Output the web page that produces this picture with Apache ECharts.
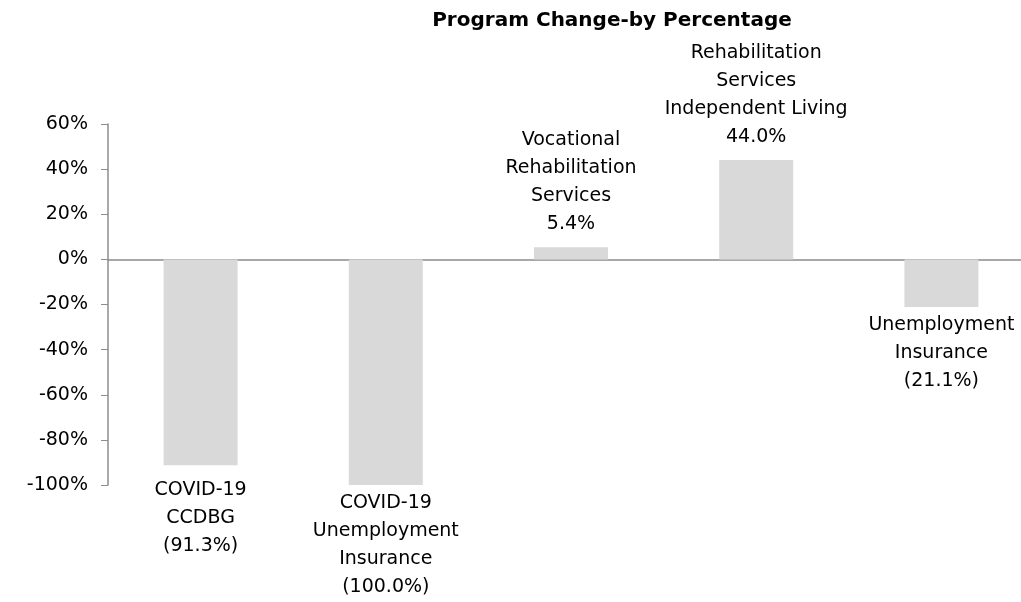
<!DOCTYPE html>
<html>
<head>
<meta charset="utf-8">
<script src="https://cdn.jsdelivr.net/npm/echarts@6/dist/echarts.min.js"></script>
<style>
  html, body { margin: 0; padding: 0; background: #fff; }
  #main { width: 1021px; height: 602px; }
</style>
</head>
<body>
<div id="main"></div>
<script>
// program names and percent change
const programs = [
  'COVID-19\nCCDBG',
  'COVID-19\nUnemployment\nInsurance',
  'Vocational\nRehabilitation\nServices',
  'Rehabilitation\nServices\nIndependent Living',
  'Unemployment\nInsurance'
];
const changes = [-91.3, -100.0, 5.4, 44.0, -21.1];

const font = '"DejaVu Sans", sans-serif';

const myChart = echarts.init(document.getElementById('main'));

myChart.setOption({
  animation: false,
  title: {
    text: 'Program Change-by Percentage',
    left: 607,
    textAlign: 'center',
    top: 6,
    textStyle: { fontFamily: font, fontSize: 20, fontWeight: 'bold', color: '#000' }
  },
  grid: { left: 108, top: 124, width: 926, height: 361, outerBoundsMode: 'none' },
  xAxis: {
    type: 'category',
    data: programs,
    axisLine: { lineStyle: { color: '#8c8c8c', width: 1.5 } },
    axisTick: { show: false },
    axisLabel: { show: false }
  },
  yAxis: {
    type: 'value',
    min: -100,
    max: 60,
    interval: 20,
    splitLine: { show: false },
    axisLine: { show: true, lineStyle: { color: '#8c8c8c', width: 1.5 } },
    axisTick: { show: true, length: 7, lineStyle: { color: '#8c8c8c' } },
    axisLabel: {
      formatter: '{value}%',
      margin: 20,
      fontFamily: font,
      fontSize: 19,
      color: '#000'
    }
  },
  series: [
    {
      type: 'bar',
      // first negative bar's label sits a bit lower in the original
      data: changes.map((v, i) => ({
        value: v,
        label: { distance: v < 0 ? (i === 0 ? 11 : 4) : 9 }
      })),
      barWidth: 74,
      itemStyle: { color: '#d9d9d9' },
      label: {
        show: true,
        position: 'outside',
        fontFamily: font,
        fontSize: 19,
        lineHeight: 28,
        color: '#000',
        align: 'center',
        formatter: (p) => {
          const v = p.value;
          const txt = v < 0 ? `(${Math.abs(v).toFixed(1)}%)` : `${v.toFixed(1)}%`;
          return `${p.name}\n${txt}`;
        }
      }
    }
  ]
});
</script>
</body>
</html>
